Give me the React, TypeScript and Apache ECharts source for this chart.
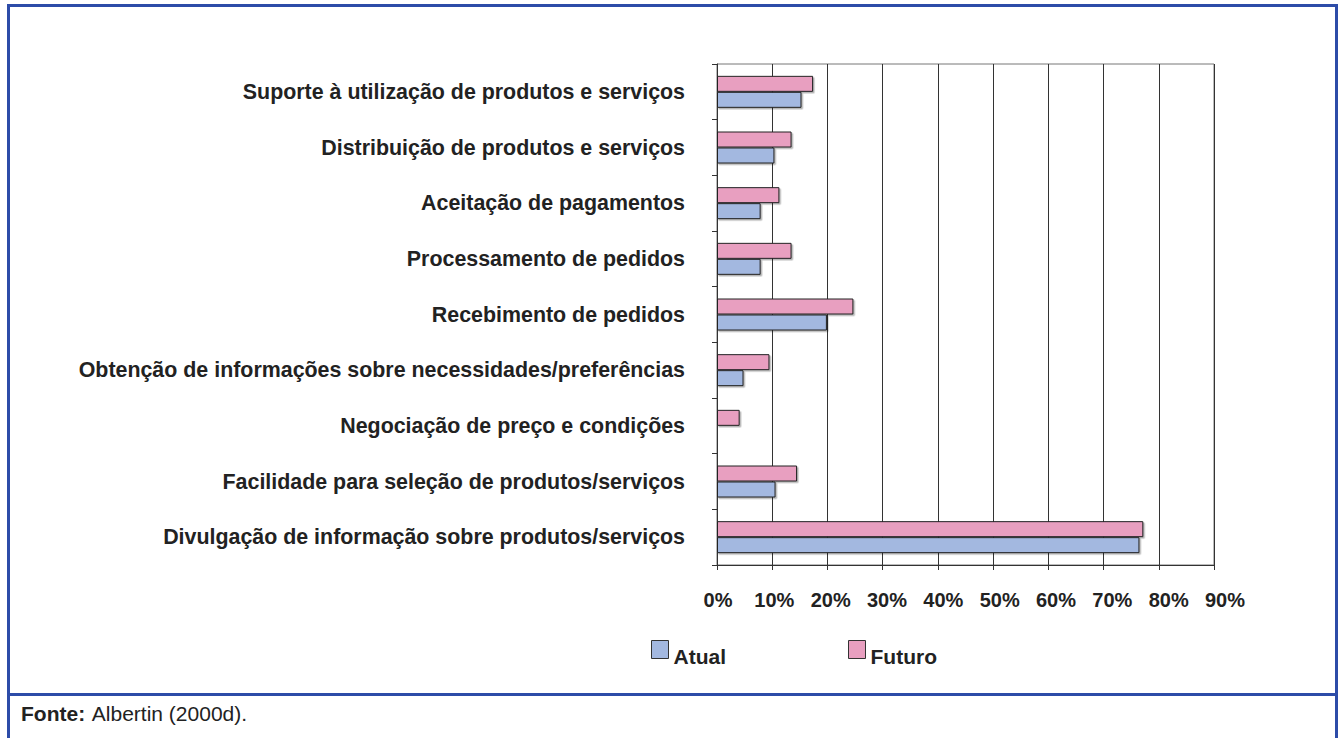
import React, { useEffect, useRef } from "react";
import * as echarts from "echarts";

const categories = [
  "Suporte à utilização de produtos e serviços",
  "Distribuição de produtos e serviços",
  "Aceitação de pagamentos",
  "Processamento de pedidos",
  "Recebimento de pedidos",
  "Obtenção de informações sobre necessidades/preferências",
  "Negociação de preço e condições",
  "Facilidade para seleção de produtos/serviços",
  "Divulgação de informação sobre produtos/serviços",
];
const atual = [15.3, 10.4, 7.9, 7.9, 19.9, 4.8, 0, 10.6, 76.5];
const futuro = [17.4, 13.5, 11.3, 13.5, 24.7, 9.5, 4.1, 14.5, 77.2];
const seriesNames = ["Atual", "Futuro"];

const FONT = "'Liberation Sans', Arial, Helvetica, sans-serif";
const FRAME = "#2d4ca8";

export default function App() {
  const ref = useRef<HTMLDivElement>(null);
  useEffect(() => {
    if (!ref.current) return;
    const chart = echarts.init(ref.current, undefined, { renderer: "svg" });
    const barStyle = (color: string) => ({
      color,
      borderColor: "#222",
      borderWidth: 1,
      shadowColor: "rgba(0,0,0,0.3)",
      shadowOffsetX: 1.5,
      shadowOffsetY: 1.5,
      shadowBlur: 0,
    });
    chart.setOption({
      animation: false,
      backgroundColor: "#fff",
      textStyle: { fontFamily: FONT },
      grid: [
        {
          left: 717,
          right: 127,
          top: 64,
          bottom: 173,
          show: true,
          borderColor: "#777",
          borderWidth: 1,
        },
        { left: 718, right: 116, top: 64, bottom: 173, show: false },
      ],
      legend: {
        data: seriesNames,
        left: 646,
        top: 627,
        itemWidth: 17,
        itemHeight: 18,
        itemGap: 122,
        icon: "rect",
        itemStyle: { borderColor: "#333", borderWidth: 1 },
        formatter: (name: string) => "\n" + name,
        textStyle: {
          fontFamily: FONT,
          fontWeight: "bold",
          fontSize: 21,
          lineHeight: 14,
          color: "#222",
        },
      },
      xAxis: [
        {
          type: "value",
          gridIndex: 0,
          min: 0,
          max: 90,
          interval: 10,
          axisLine: { show: true, lineStyle: { color: "#333", width: 1 } },
          axisTick: { show: true, length: 5, lineStyle: { color: "#333" } },
          splitLine: { show: true, lineStyle: { color: "#333", width: 1 } },
          axisLabel: { show: false },
        },
        {
          type: "value",
          gridIndex: 1,
          min: 0,
          max: 90,
          interval: 10,
          axisLine: { show: false },
          axisTick: { show: false },
          splitLine: { show: false },
          axisLabel: {
            formatter: "{value}%",
            fontFamily: FONT,
            fontWeight: "bold",
            fontSize: 20,
            color: "#222",
            margin: 25,
          },
        },
      ],
      yAxis: [
        {
          type: "category",
          gridIndex: 0,
          data: categories,
          inverse: true,
          axisLine: { show: true, lineStyle: { color: "#333", width: 1 } },
          axisTick: { show: true, length: 5, interval: 0, lineStyle: { color: "#333" } },
          axisLabel: {
            interval: 0,
            fontFamily: FONT,
            fontWeight: "bold",
            fontSize: 21.4,
            color: "#222",
            margin: 32,
          },
        },
        {
          type: "category",
          gridIndex: 1,
          data: categories,
          inverse: true,
          show: false,
        },
      ],
      series: [
        {
          name: "Futuro",
          type: "bar",
          data: futuro,
          barWidth: 16,
          barGap: "0%",
          itemStyle: barStyle("#e89fc0"),
        },
        {
          name: "Atual",
          type: "bar",
          data: atual,
          barWidth: 16,
          barGap: "0%",
          itemStyle: barStyle("#a3b8e0"),
        },
      ],
      graphic: [
        { type: "line", shape: { x1: 8.5, y1: 5.5, x2: 1336.5, y2: 5.5 }, style: { stroke: FRAME, lineWidth: 3 } },
        { type: "line", shape: { x1: 8.5, y1: 4, x2: 8.5, y2: 738 }, style: { stroke: FRAME, lineWidth: 3 } },
        { type: "line", shape: { x1: 1336.5, y1: 4, x2: 1336.5, y2: 738 }, style: { stroke: FRAME, lineWidth: 3 } },
        { type: "line", shape: { x1: 8.5, y1: 694.5, x2: 1336.5, y2: 694.5 }, style: { stroke: FRAME, lineWidth: 3 } },
        {
          type: "text",
          left: 21,
          top: 703,
          style: {
            text: "{b|Fonte:}  {r|Albertin (2000d).}",
            rich: {
              b: { fontFamily: FONT, fontWeight: "bold", fontSize: 21, fill: "#222" },
              r: { fontFamily: FONT, fontSize: 21, fill: "#222" },
            },
          },
        },
      ],
    });
    return () => chart.dispose();
  }, []);
  return (
    <div
      ref={ref}
      style={{ position: "fixed", left: 0, top: 0, width: 1341, height: 738 }}
    />
  );
}
